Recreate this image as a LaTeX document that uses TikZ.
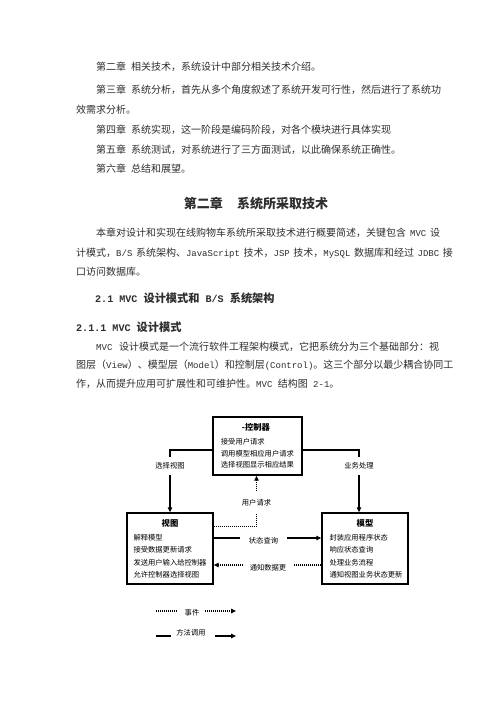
\documentclass[tikz,border=0pt]{standalone}
\usepackage{fontspec}
\setmainfont{Noto Sans CJK SC}
\newfontfamily\lat[Scale=0.9]{Liberation Mono}
\usetikzlibrary{arrows.meta}
\XeTeXlinebreaklocale "zh"
\XeTeXlinebreakskip=0pt plus 1pt minus 0.3pt
\newcommand\jline[2]{\hbox to #1{#2}}
\definecolor{bodytext}{gray}{0.18}
\tikzset{
  body/.style={anchor=west, inner sep=0pt, text=bodytext, font=\fontsize{10}{12}\selectfont},
  head/.style={anchor=west, inner sep=0pt, text=bodytext, font=\fontsize{11.2}{13}\selectfont\bfseries},
  box/.style={draw, line width=1.3pt, inner sep=0pt},
  btitle/.style={inner sep=0pt, font=\fontsize{8.3}{10}\selectfont\bfseries},
  btext/.style={anchor=west, inner sep=0pt, font=\fontsize{7.3}{9}\selectfont},
  lab/.style={fill=white, inner sep=0pt, font=\fontsize{7.3}{9}\selectfont},
  arr/.style={line width=1.2pt, -{Triangle[length=5pt,width=4.5pt]}},
  dotarr/.style={line width=1.2pt, dash pattern=on 1pt off 1pt, -{Triangle[length=5pt,width=4.5pt]}},
  dotline/.style={line width=1.2pt, dash pattern=on 1pt off 1pt},
  solidline/.style={line width=1.4pt}
}
\begin{document}
\begin{tikzpicture}[x=1pt,y=-1pt]
\useasboundingbox[fill=white] (0,0) rectangle (500,707);

% ---- body text ----
\node[body] (l1) at (96,66.7) {第二章\hspace{0.5em}相关技术，系统设计中部分相关技术介绍。};
\node[body] (l2) at (96,90) {\jline{344pt}{第三章\hspace{0.5em}系统分析，首先从多个角度叙述了系统开发可行性，然后进行了系统功}};
\node[body] (l3) at (76,110) {效需求分析。};
\node[body] (l4) at (96,130) {第四章\hspace{0.5em}系统实现，这一阶段是编码阶段，对各个模块进行具体实现};
\node[body] (l5) at (96,149.5) {第五章\hspace{0.5em}系统测试，对系统进行了三方面测试，以此确保系统正确性。};
\node[body] (l6) at (96,169) {第六章\hspace{0.5em}总结和展望。};

\node[inner sep=0pt, text=bodytext, font=\fontsize{13}{15}\selectfont\bfseries] (title) at (256,204) {第二章\hspace{1.1em}系统所采取技术};

\node[body] (p1) at (96,233) {\jline{344pt}{本章对设计和实现在线购物车系统所采取技术进行概要简述，关键包含{\lat\ MVC }设}};
\node[body] (p2) at (76,253) {\jline{364pt}{计模式，{\lat B/S }系统架构、{\lat JavaScript }技术，{\lat JSP }技术，{\lat MySQL }数据库和经过{\lat\ JDBC }接}};
\node[body] (p3) at (76,272) {口访问数据库。};

\node[head] (h1) at (95,298) {{\lat 2.1 MVC }设计模式和{\lat\ B/S }系统架构};
\node[head] (h2) at (76,327) {{\lat 2.1.1 MVC }设计模式};

\node[body] (m1) at (96,346.5) {\jline{343pt}{{\lat MVC }设计模式是一个流行软件工程架构模式，它把系统分为三个基础部分：视}};
\node[body] (m2) at (76,365) {\jline{363pt}{图层（{\lat View}）、模型层（{\lat Model}）和控制层{\lat (Control)}。这三个部分以最少耦合协同工}};
\node[body] (m3) at (76,384) {作，从而提升应用可扩展性和可维护性。{\lat MVC }结构图{\lat\ 2-1}。};

% ---- diagram boxes ----
\node[box, minimum width=89pt, minimum height=58pt] (ctrl) at (257.5,446) {};
\node[box, minimum width=86pt, minimum height=71pt] (view) at (170,548.5) {};
\node[box, minimum width=86pt, minimum height=71pt] (model) at (365,548.5) {};

\node[btitle] (ctrlT) at (256,427) {-控制器};
\node[btext] (c1) at (220.7,441.7) {接受用户请求};
\node[btext] (c2) at (220.7,453.3) {调用模型相应用户请求};
\node[btext] (c3) at (220.7,465) {选择视图显示相应结果};

\node[btitle] (viewT) at (170,523.3) {视图};
\node[btext] (v1) at (133.3,537.7) {解释模型};
\node[btext] (v2) at (133.3,549.5) {接受数据更新请求};
\node[btext] (v3) at (133.3,563.2) {发送用户输入给控制器};
\node[btext] (v4) at (133.3,575) {允许控制器选择视图};

\node[btitle] (modelT) at (365,523.3) {模型};
\node[btext] (o1) at (329.3,537.7) {封装应用程序状态};
\node[btext] (o2) at (329.3,549.5) {响应状态查询};
\node[btext] (o3) at (329.3,563.2) {处理业务流程};
\node[btext] (o4) at (329.3,575) {通知视图业务状态更新};

% ---- connectors ----
\draw[arr] ([yshift=-4pt]ctrl.west) -| (view.north);
\node[lab, inner xsep=1pt, inner ysep=5.5pt] (selv) at (170,466) {选择视图};

\draw[arr] ([yshift=-4pt]ctrl.east) -| ([xshift=-6pt]model.north);
\node[lab, inner xsep=1pt, inner ysep=5.5pt] (biz) at (359,466) {业务处理};

\draw[dotarr] ([yshift=22pt]view.east) -| ([xshift=-1pt]ctrl.south);
\node[lab, inner xsep=1pt, inner ysep=7pt] (ureq) at (256.5,502.5) {用户请求};

\draw[arr] ([yshift=10.5pt]view.east) -- ([yshift=10.5pt]model.west);
\node[lab, inner xsep=9pt, inner ysep=1pt] (sq) at (263.5,541) {状态查询};

\draw[dotarr] ([yshift=-16.5pt]model.west) -- ([yshift=-16.5pt]view.east);
\node[lab, inner xsep=6.8pt, inner ysep=1pt] (nd) at (268,568) {通知数据更};

% ---- legend ----
\coordinate (e1) at (156,611);
\coordinate (e2) at (177,611);
\coordinate (e3) at (205,611);
\coordinate (e4) at (236,611);
\draw[dotline] (e1) -- (e2);
\node[inner sep=0pt, font=\fontsize{7.3}{9}\selectfont] (evt) at (192,613) {事件};
\draw[dotarr] (e3) -- (e4);

\coordinate (f1) at (156,636);
\coordinate (f2) at (171,636);
\coordinate (f3) at (215,636);
\coordinate (f4) at (236,636);
\draw[solidline] (f1) -- (f2);
\node[inner sep=0pt, font=\fontsize{7.3}{9}\selectfont] (meth) at (191,633) {方法调用};
\draw[arr] (f3) -- (f4);
\end{tikzpicture}
\end{document}
